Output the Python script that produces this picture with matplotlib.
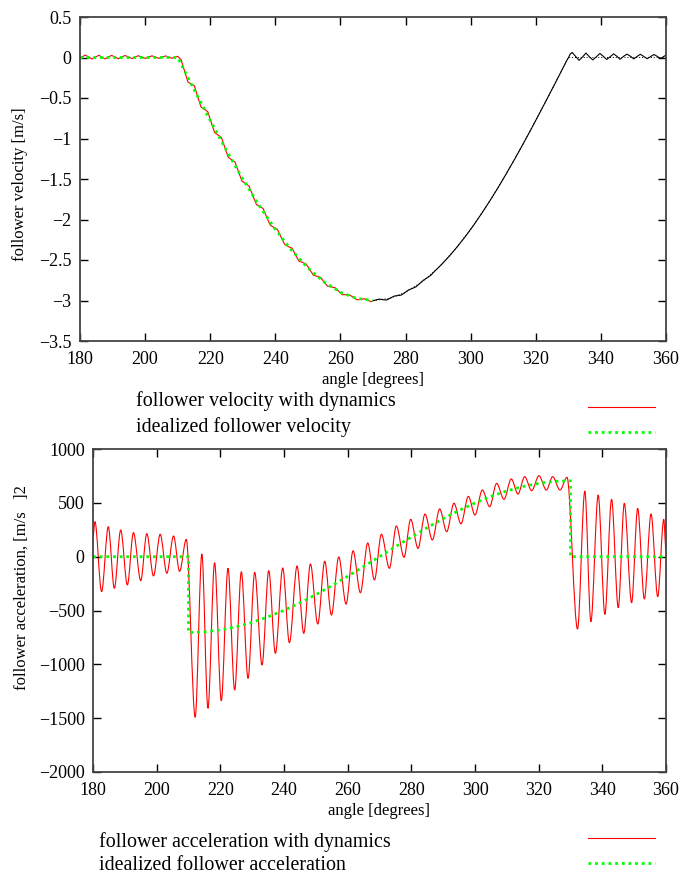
import numpy as np
import matplotlib
matplotlib.use("Agg")
import matplotlib.pyplot as plt
from matplotlib.path import Path
from matplotlib.patches import PathPatch
from matplotlib.lines import Line2D

plt.rcParams['font.family'] = ['Liberation Serif', 'DejaVu Serif']
plt.rcParams['axes.unicode_minus'] = True

RED = '#ff0000'
GREEN = '#00ff00'

# ---- velocity ----
vel_ideal_deg = [180, 210, 215, 220, 225, 230, 235, 240, 245, 250, 255, 260, 265, 270,
                 275, 280, 285, 290, 295, 300, 305, 310, 315, 320, 325, 330, 360]
vel_ideal = [0.0, 0.0, -0.392, -0.776, -1.148, -1.5, -1.826, -2.121, -2.380, -2.598, -2.772,
             -2.898, -2.974, -3.0, -2.974, -2.898, -2.772, -2.598, -2.380, -2.121, -1.826,
             -1.5, -1.148, -0.776, -0.392, 0.0, 0.0]

vel_dyn_deg = [180.0, 180.6, 181.6, 182.7, 183.7, 184.8, 185.8, 186.7, 187.7, 188.7, 189.7,
               190.8, 191.8, 192.7, 193.8, 195.0, 196.0, 196.9, 197.9, 199.0, 200.0, 201.1,
               202.1, 203.2, 204.2, 205.3, 206.3, 207.2, 208.2, 209.3, 210.0,
               211.05, 212.1, 213.15, 214.2, 215.15, 216.1, 217.15, 218.2, 219.25, 220.3,
               221.35, 222.4, 223.45, 224.5, 225.55, 226.6, 227.65, 228.7, 229.75, 230.8,
               231.95, 233.1, 234.15, 235.2, 236.25, 237.3, 238.45, 239.6, 240.65, 241.7,
               242.9, 244.1, 245.15, 246.2, 247.25, 248.3, 249.45, 250.6, 251.7, 252.8,
               253.85, 254.9, 256.05, 257.2, 258.35, 259.5, 260.6, 261.7, 262.85, 264.0,
               265.15, 266.3, 267.35, 268.4, 269.35, 270.3,
               271.85, 273.1, 274.2, 275.3, 276.5, 277.7, 278.75, 279.8, 280.95, 282.1,
               283.2, 284.3, 285.45, 286.6, 287.75, 288.9, 291.0, 293.5, 296.0, 298.5,
               301.0, 303.5, 306.0, 308.5, 311.0, 313.5, 316.0, 318.5, 321.0, 323.5,
               326.0, 328.5, 329.5, 330.0, 330.6, 331.2, 332.2, 333.3, 334.5, 335.4,
               336.4, 337.5, 338.7, 339.7, 340.8, 341.8, 342.9, 343.9, 345.0, 345.9,
               346.9, 348.0, 349.2, 350.1, 351.1, 352.1, 353.2, 354.2, 355.3, 356.3,
               357.4, 358.3, 359.3, 360.0]
vel_dyn = [-0.01, 0.005, 0.03, 0.005, -0.019, 0.005, 0.028, 0.005, -0.017, 0.005, 0.026,
           0.005, -0.015, 0.005, 0.024, 0.005, -0.013, 0.005, 0.022, 0.005, -0.011, 0.005,
           0.021, 0.005, -0.01, 0.005, 0.02, 0.005, -0.009, 0.005, 0.015,
           -0.027, -0.165, -0.301, -0.329, -0.350, -0.477, -0.610, -0.639, -0.669, -0.799,
           -0.927, -0.957, -0.987, -1.112, -1.234, -1.263, -1.292, -1.411, -1.526, -1.554,
           -1.589, -1.706, -1.813, -1.839, -1.865, -1.966, -2.070, -2.099, -2.122, -2.214,
           -2.309, -2.336, -2.356, -2.436, -2.514, -2.529, -2.549, -2.621, -2.688, -2.701,
           -2.712, -2.769, -2.824, -2.833, -2.842, -2.887, -2.928, -2.929, -2.931, -2.963,
           -2.992, -2.986, -2.978, -2.997, -3.014, -3.0,
           -2.983, -2.990, -2.994, -2.971, -2.946, -2.939, -2.932, -2.902, -2.869, -2.851,
           -2.831, -2.792, -2.751, -2.721, -2.689, -2.640, -2.558, -2.450, -2.331, -2.203,
           -2.065, -1.918, -1.763, -1.601, -1.431, -1.256, -1.075, -0.890, -0.700, -0.508,
           -0.314, -0.118, -0.039, -0.005, 0.045, 0.062, 0.015, -0.035, 0.012, 0.055,
           0.012, -0.03, 0.012, 0.05, 0.012, -0.025, 0.012, 0.045, 0.012, -0.022,
           0.012, 0.042, 0.012, -0.018, 0.012, 0.04, 0.012, -0.015, 0.012, 0.037,
           0.012, -0.013, 0.012, 0.03]
vel_color_split = 270.3   # past this angle gnuplot drew both curves in black

# ---- acceleration ----
acc_ideal_deg = [180, 210, 210, 215, 220, 225, 230, 235, 240, 245, 250, 255, 260, 265, 270,
                 275, 280, 285, 290, 295, 300, 305, 310, 315, 320, 325, 330, 330, 360]
acc_ideal = [0, 0, -705, -699, -681, -651, -611, -559, -499, -429, -353, -270, -182, -92, 0,
             92, 182, 270, 353, 429, 499, 559, 611, 651, 681, 699, 705, 0, 0]

# peaks / troughs of the oscillating curve
acc_dyn_deg = [180.0, 180.6, 182.7, 184.8, 186.7, 188.7, 190.8, 192.7, 195.0, 196.9, 199.0,
               201.1, 203.2, 205.3, 207.2, 209.3, 212.1, 214.2, 216.1, 218.2, 220.3, 222.4,
               224.5, 226.6, 228.7, 230.8, 233.1, 235.2, 237.3, 239.6, 241.7, 244.1, 246.2,
               248.3, 250.6, 252.8, 254.9, 257.2, 259.5, 261.7, 264.0, 266.3, 268.4, 270.6,
               273.1, 275.3, 277.7, 279.8, 282.1, 284.3, 286.6, 288.9, 291.1, 293.4, 295.6,
               297.9, 300.0, 302.3, 304.6, 306.8, 309.1, 311.4, 313.5, 315.6, 317.8, 320.1,
               322.4, 324.4, 326.7, 328.9, 332.2, 334.5, 336.4, 338.7, 340.8, 342.9, 345.0,
               346.9, 349.2, 351.1, 353.2, 355.3, 357.4, 359.3, 360.0]
acc_dyn = [185, 325, -325, 278, -294, 248, -263, 223, -223, 214, -179,
           208, -154, 192, -136, 161, -1492, 25, -1408, -56, -1338, -108,
           -1238, -140, -1130, -145, -1006, -130, -898, -105, -799, -87, -712,
           -68, -625, -43, -542, -3, -440, 54, -335, 127, -216, 208,
           -108, 285, -6, 347, 77, 396, 155, 443, 232, 496, 305,
           560, 387, 619, 464, 681, 533, 722, 582, 743, 613, 752,
           619, 743, 619, 737, -672, 610, -604, 573, -536, 533, -474,
           496, -428, 449, -393, 396, -372, 347, 60]

x_ticks = list(range(180, 361, 20))
vel_ticks = [0.5, 0, -0.5, -1, -1.5, -2, -2.5, -3, -3.5]
acc_ticks = [1000, 500, 0, -500, -1000, -1500, -2000]

W, H = 679, 876
fig = plt.figure(figsize=(W / 100, H / 100), dpi=100)
ax1 = fig.add_axes([80 / W, 1 - 341 / H, (666 - 80) / W, (341 - 17) / H])
ax2 = fig.add_axes([93 / W, 1 - 772 / H, (666 - 93) / W, (772 - 449) / H])


def fmt(v):
    return f'{v:g}'.replace('-', '\u2212')


def gnuplot_axes(ax, yticks, ylim):
    ax.set_xlim(180, 360)
    ax.set_ylim(*ylim)
    ax.set_xticks(x_ticks)
    ax.set_xticklabels([fmt(t) for t in x_ticks])
    ax.set_yticks(yticks)
    ax.set_yticklabels([fmt(t) for t in yticks])
    ax.tick_params(direction='in', top=True, right=True, length=6, width=1,
                   labelsize=13, color='black')
    ax.tick_params(axis='x', pad=7)
    ax.tick_params(axis='y', pad=6)
    for s in ax.spines.values():
        s.set_color('#444444')
        s.set_linewidth(1.3)
    ax.set_xlabel('angle [degrees]', fontsize=12, labelpad=3)


def smooth_path(xs, ys):
    # cubic segments with flat tangents at every peak / trough
    verts = [(xs[0], ys[0])]
    codes = [Path.MOVETO]
    for i in range(len(xs) - 1):
        dx = xs[i + 1] - xs[i]
        verts += [(xs[i] + dx / 3, ys[i]), (xs[i + 1] - dx / 3, ys[i + 1]), (xs[i + 1], ys[i + 1])]
        codes += [Path.CURVE4] * 3
    return Path(verts, codes)


dot_style = dict(color=GREEN, lw=2.0, linestyle=(0, (1, 1.4)), dash_capstyle='butt')
red_style = dict(color=RED, lw=0.8)

# upper panel
gnuplot_axes(ax1, vel_ticks, (-3.5, 0.5))
vd = np.array(vel_dyn_deg)
vv = np.array(vel_dyn)
red_part = vd <= vel_color_split
blk_part = vd >= vel_color_split
vi = np.array(vel_ideal_deg)
vid = np.array(vel_ideal)
ax1.plot(vd[red_part], vv[red_part], **red_style)
ax1.plot(vd[blk_part], vv[blk_part], color='black', lw=0.8)
ax1.plot(vi[vi <= 270], vid[vi <= 270], **dot_style)
ax1.plot(vi[vi >= 270], vid[vi >= 270], color='black', lw=0.7, linestyle=(0, (1, 2)))
ax1.set_ylabel('follower velocity [m/s]', fontsize=12)
ax1.yaxis.set_label_coords((28 - 80) / 586, 0.485)

# lower panel
gnuplot_axes(ax2, acc_ticks, (-2000, 1000))
ax2.add_patch(PathPatch(smooth_path(acc_dyn_deg, acc_dyn), fill=False,
                        edgecolor=RED, lw=0.8))
ax2.plot(acc_ideal_deg, acc_ideal, **dot_style)
fig.text(22 / W, 1 - 588 / H, 'follower acceleration, [m/s   ]2', rotation=90,
         ha='center', va='center', fontsize=12)


# key block below each panel: text on the left, line samples on the right
def panel_key(labels, left_px, rows_px, key_px):
    styles = [red_style, dot_style]
    for lab, y, ky, st in zip(labels, rows_px, key_px, styles):
        fig.text(left_px / W, 1 - y / H, lab, ha='left', va='center', fontsize=14.4)
        fig.add_artist(Line2D([588 / W, 655 / W], [1 - ky / H] * 2,
                              transform=fig.transFigure, **st))


panel_key(['follower velocity with dynamics', 'idealized follower velocity'],
          136, [401, 427], [407, 432])
panel_key(['follower acceleration with dynamics', 'idealized follower acceleration'],
          99, [842, 866], [838, 863])

fig.savefig('out.png', dpi=100)
